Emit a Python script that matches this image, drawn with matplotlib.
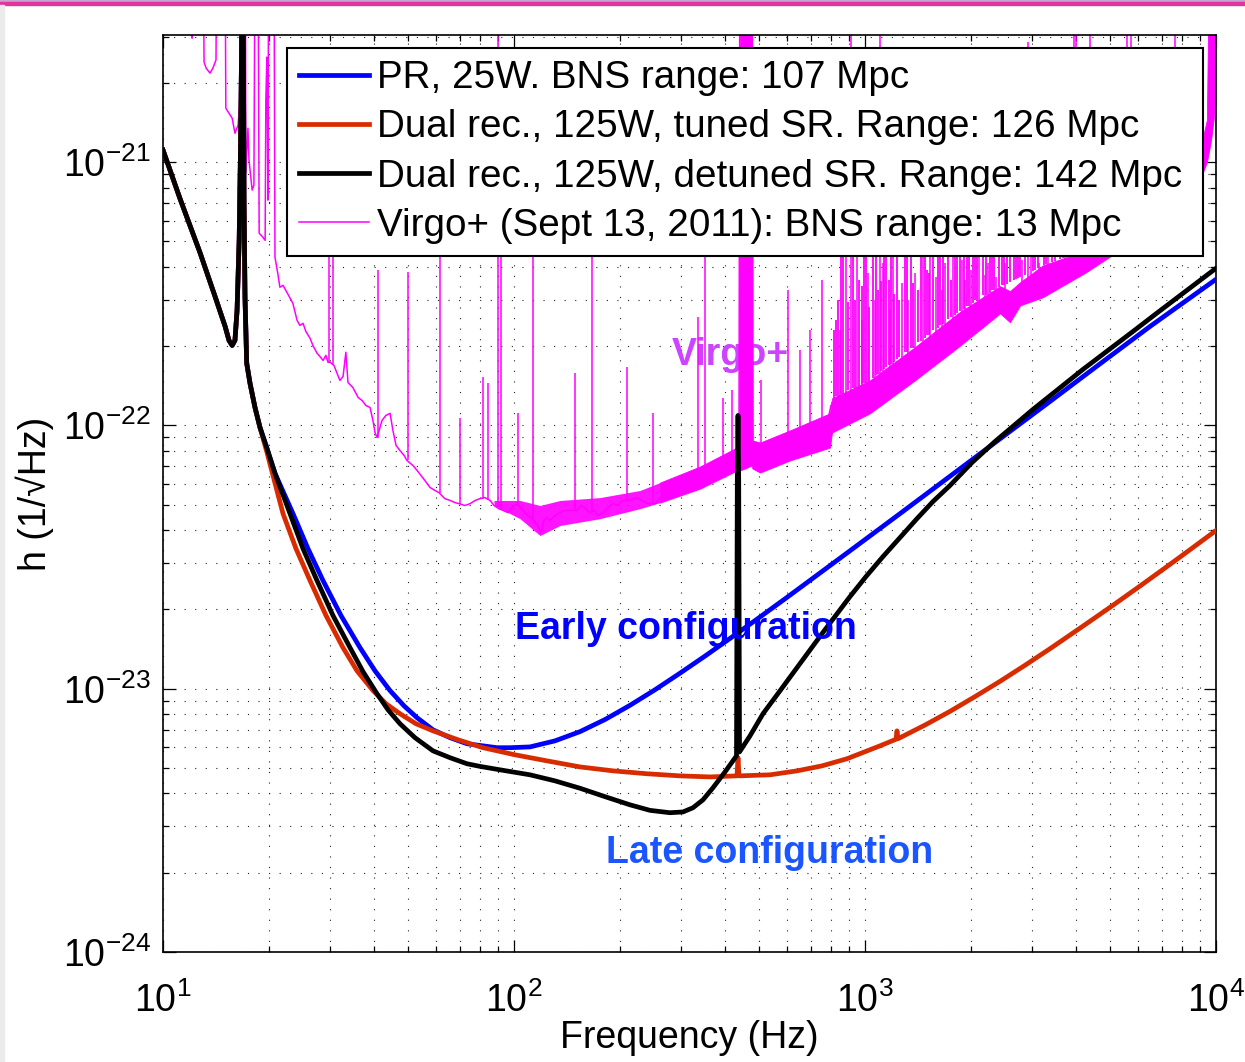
import numpy as np
import matplotlib
matplotlib.use("Agg")
import matplotlib.pyplot as plt
from matplotlib.patches import Rectangle
from matplotlib.ticker import FixedLocator, NullFormatter

plt.rcParams['font.family'] = ['Liberation Sans', 'DejaVu Sans']
plt.rcParams['mathtext.fontset'] = 'custom'
plt.rcParams['mathtext.rm'] = 'Liberation Sans'

# ---------------- data (log10 frequency [Hz], log10 strain [1/sqrt(Hz)]) ----------------
# common low-frequency part of the three AdV curves
low_logf = [1.000, 1.048, 1.105, 1.148, 1.177, 1.188, 1.197, 1.205, 1.211, 1.217, 1.2208,
            1.2236, 1.2265, 1.2293, 1.2308, 1.2336, 1.2385, 1.2479, 1.2621, 1.2764]
low_logh = [-20.954, -21.137, -21.342, -21.509, -21.624, -21.677, -21.696, -21.677, -21.563,
            -21.297, -20.954, -20.612, -19.8, -20.612, -21.133, -21.513, -21.764, -21.840,
            -21.932, -22.008]

pr_logf = [1.2954, 1.3191, 1.3704, 1.4131, 1.4558, 1.5071, 1.5613, 1.6040, 1.6467, 1.6866,
           1.7236, 1.7692, 1.8177, 1.8661, 1.9117, 1.9516, 1.9886, 2.0456, 2.1168, 2.1880,
           2.2593, 2.3305, 2.4017, 2.4729, 2.5442, 2.6154, 2.6952, 2.7778, 2.8661, 2.9573,
           3.0997, 3.2422, 3.3846, 3.5271, 3.6695, 3.8120, 4.0]
pr_logh = [-22.084, -22.182, -22.335, -22.468, -22.589, -22.722, -22.844, -22.932, -23.007,
           -23.065, -23.110, -23.156, -23.186, -23.209, -23.217, -23.224, -23.224, -23.221,
           -23.198, -23.163, -23.117, -23.063, -23.004, -22.941, -22.876, -22.809, -22.733,
           -22.653, -22.566, -22.476, -22.335, -22.193, -22.051, -21.909, -21.766, -21.624,
           -21.445]

tuned_logf = [1.2963, 1.3419, 1.3789, 1.4188, 1.4644, 1.5128, 1.5527, 1.5983, 1.6353, 1.6752,
              1.7208, 1.7692, 1.8405, 1.9117, 2.0028, 2.0940, 2.1880, 2.2821, 2.3789, 2.4729,
              2.5584, 2.6353, 2.6382, 2.6410, 2.7293, 2.8063, 2.8775, 2.9487, 3.0427, 3.0883,
              3.0912, 3.0940, 3.1709, 3.2422, 3.3134, 3.3846, 3.4558, 3.5271, 3.6125, 3.6980,
              3.7835, 3.8604, 3.9259, 4.0]
tuned_logh = [-22.103, -22.335, -22.468, -22.589, -22.722, -22.844, -22.932, -23.007, -23.057,
              -23.095, -23.133, -23.160, -23.194, -23.224, -23.251, -23.274, -23.297, -23.312,
              -23.323, -23.331, -23.335, -23.331, -23.262, -23.331, -23.327, -23.312, -23.293,
              -23.266, -23.217, -23.192, -23.160, -23.190, -23.138, -23.086, -23.030, -22.972,
              -22.911, -22.848, -22.770, -22.691, -22.610, -22.536, -22.472, -22.399]

detuned_logf = [1.2954, 1.3191, 1.3618, 1.3989, 1.4387, 1.4843, 1.5328, 1.5698, 1.6097, 1.6410,
                1.6752, 1.7179, 1.7692, 1.8177, 1.8661, 1.9031, 1.9601, 2.0456, 2.1168, 2.1880,
                2.2593, 2.3305, 2.3875, 2.4444, 2.4815, 2.5100, 2.5385, 2.5670, 2.6012, 2.6339,
                2.6362, 2.6382, 2.6402, 2.6425, 2.6724, 2.7094, 2.7578, 2.8063, 2.8775, 2.9573,
                3.0028, 3.0513, 3.0997, 3.1481, 3.1937, 3.2422, 3.3048, 3.3704, 3.4786, 3.5499,
                3.6211, 3.6923, 3.7635, 3.8348, 3.9060, 4.0]
detuned_logh = [-22.084, -22.182, -22.335, -22.468, -22.589, -22.722, -22.844, -22.935, -23.019,
                -23.080, -23.133, -23.186, -23.236, -23.262, -23.285, -23.295, -23.308, -23.327,
                -23.350, -23.378, -23.410, -23.441, -23.462, -23.471, -23.468, -23.452, -23.422,
                -23.376, -23.316, -23.255, -22.209, -21.962, -22.209, -23.240, -23.179, -23.095,
                -23.008, -22.920, -22.791, -22.650, -22.574, -22.498, -22.426, -22.354, -22.289,
                -22.228, -22.141, -22.061, -21.939, -21.863, -21.787, -21.715, -21.643, -21.570,
                -21.498, -21.403]

# Virgo+ measured sensitivity (baseline trace)
virgo_logf = [1.000, 1.078, 1.083, 1.087, 1.111, 1.117, 1.123, 1.134, 1.142, 1.151, 1.155, 1.175,
              1.179, 1.188, 1.197, 1.205, 1.214, 1.219, 1.222, 1.234, 1.236, 1.239, 1.242, 1.245,
              1.254, 1.259, 1.264, 1.269, 1.274, 1.282, 1.291, 1.293, 1.296, 1.299, 1.302, 1.315,
              1.319, 1.328, 1.333, 1.342, 1.350, 1.359, 1.370, 1.382, 1.390, 1.399, 1.407, 1.419,
              1.427, 1.439, 1.447, 1.456, 1.464, 1.470, 1.476, 1.487, 1.496, 1.504, 1.513, 1.521,
              1.527, 1.541, 1.556, 1.567, 1.578, 1.590, 1.598, 1.604, 1.610, 1.624, 1.635, 1.647,
              1.655, 1.664, 1.675, 1.687, 1.695, 1.712, 1.724, 1.735, 1.746, 1.761, 1.775, 1.786,
              1.803, 1.818, 1.832, 1.843, 1.860, 1.875, 1.889, 1.903, 1.917, 1.932, 1.943, 1.957,
              1.969, 1.983, 1.994, 2.009, 2.026, 2.040, 2.057, 2.068, 2.077, 2.085, 2.094, 2.103,
              2.117, 2.131, 2.145, 2.160, 2.179, 2.191, 2.202, 2.214, 2.228, 2.239, 2.254, 2.268,
              2.282, 2.296, 2.308, 2.328, 2.339, 2.350, 2.365, 2.379, 2.402, 2.416, 2.430, 2.444,
              2.459, 2.473, 2.487, 2.501, 2.516, 2.530, 2.553, 2.564, 2.578, 2.590, 2.601, 2.613,
              2.627, 2.635, 2.641, 2.644, 2.678, 2.681, 2.689, 2.701, 2.709, 2.721, 2.732, 2.744,
              2.755, 2.766, 2.778, 2.786, 2.801, 2.815, 2.829, 2.843, 2.858, 2.872, 2.883, 2.894,
              2.903, 2.914, 2.929, 2.952, 2.966, 2.986, 3.000, 3.017, 3.031, 3.057, 3.085, 3.114,
              3.142, 3.171, 3.199, 3.228, 3.265, 3.299, 3.328, 3.356, 3.385, 3.405, 3.419, 3.433,
              3.456, 3.484, 3.507, 3.541, 3.570, 3.598, 3.630, 3.670, 3.726, 3.783, 3.840, 3.897,
              3.954, 3.972, 3.980, 3.989, 3.994, 4.000]
virgo_logh = [-19.6, -19.6, -20.529, -19.6, -19.6, -20.620, -20.643, -20.662, -20.643, -20.612,
              -19.6, -19.6, -20.795, -20.814, -20.833, -20.890, -20.859, -20.764, -19.6, -19.6,
              -21.042, -20.954, -20.871, -20.992, -21.106, -21.087, -19.6, -19.6, -21.270,
              -21.281, -21.297, -20.764, -20.601, -21.144, -19.6, -19.6, -21.361, -21.430,
              -21.475, -21.468, -21.487, -21.509, -21.536, -21.601, -21.620, -21.612, -21.643,
              -21.669, -21.696, -21.726, -21.738, -21.753, -21.734, -21.760, -21.760, -21.772,
              -21.802, -21.829, -21.814, -21.722, -21.837, -21.856, -21.894, -21.905, -21.924,
              -21.932, -21.981, -22.027, -22.046, -21.981, -21.962, -21.954, -22.019, -22.076,
              -22.095, -22.114, -22.133, -22.152, -22.171, -22.190, -22.209, -22.236, -22.247,
              -22.255, -22.278, -22.285, -22.293, -22.297, -22.304, -22.297, -22.285, -22.278,
              -22.274, -22.285, -22.304, -22.316, -22.323, -22.331, -22.312, -22.297, -22.323,
              -22.342, -22.361, -22.380, -22.407, -22.361, -22.350, -22.361, -22.342, -22.331,
              -22.323, -22.323, -22.323, -22.304, -22.312, -22.331, -22.323, -22.342, -22.331,
              -22.312, -22.297, -22.304, -22.285, -22.285, -22.278, -22.274, -22.285, -22.297,
              -22.297, -22.274, -22.266, -22.258, -22.247, -22.240, -22.236, -22.224, -22.213,
              -22.209, -22.201, -22.194, -22.182, -22.171, -22.163, -22.152, -22.144, -22.122,
              -22.114, -19.6, -19.6, -22.076, -22.095, -22.141, -22.152, -22.133, -22.114,
              -22.103, -22.095, -22.084, -22.076, -22.076, -22.057, -22.046, -22.034, -22.019,
              -22.008, -21.996, -21.989, -21.981, -21.924, -21.913, -21.905, -21.897, -21.890,
              -21.878, -21.867, -21.859, -21.848, -21.829, -21.802, -21.772, -21.753, -21.715,
              -21.696, -21.669, -21.639, -21.608, -21.582, -21.555, -21.525, -21.544, -21.582,
              -21.525, -21.487, -21.460, -21.449, -21.418, -21.395, -21.380, -21.365, -21.327,
              -21.278, -21.228, -21.175, -21.114, -21.038, -20.992, -20.954, -20.726, -19.6,
              -19.6]

# Virgo+ noise envelope, sparse part (lower / upper)
sparse_logf = [1.943, 2.017, 2.074, 2.131, 2.245, 2.359, 2.416]
sparse_lo = [-22.304, -22.354, -22.418, -22.380, -22.354, -22.316, -22.293]
sparse_hi = [-22.285, -22.285, -22.304, -22.285, -22.274, -22.247, -22.217]

# Virgo+ noise envelope, dense part (lower / upper)
dense_logf = [2.416, 2.530, 2.635, 2.642, 2.644, 2.678, 2.679, 2.701, 2.786, 2.900, 2.906,
              3.014, 3.142, 3.265, 3.385, 3.413, 3.442, 3.507, 3.630, 3.812, 3.954, 3.974,
              3.986, 4.000]
dense_lo = [-22.293, -22.240, -22.171, -22.171, -22.171, -22.152, -22.163, -22.179, -22.133,
            -22.084, -22.027, -21.954, -21.829, -21.703, -21.574, -21.608, -21.544, -21.513,
            -21.418, -21.259, -21.068, -21.000, -20.916, -20.764]
dense_hi = [-22.217, -22.156, -22.084, -22.076, -19.6, -19.6, -22.057, -22.065, -22.019,
            -21.954, -21.897, -21.829, -21.703, -21.574, -21.471, -21.490, -21.456, -21.392,
            -21.335, -21.163, -20.954, -20.840, -19.6, -19.6]

# Virgo+ narrow lines (frequency, foot, top)
spike_logf = [1.473, 1.483, 1.612, 1.698, 1.789, 1.846, 1.912, 1.926, 1.953, 1.964, 2.011,
              2.053, 2.174, 2.222, 2.322, 2.396, 2.525, 2.544, 2.595, 2.621, 2.704, 2.781,
              2.815, 2.843, 2.878, 2.929, 2.946, 2.960, 2.977, 2.991, 3.009, 3.028, 3.043,
              3.051, 3.071, 3.080, 3.105, 3.122, 3.142, 3.165, 3.185, 3.202, 3.219, 3.228,
              3.251, 3.276, 3.285, 3.302, 3.325, 3.342, 3.350, 3.373, 3.399, 3.447, 3.464,
              3.473, 3.496, 3.521, 3.570, 3.595, 3.601, 3.618, 3.641, 3.670, 3.698, 3.746,
              3.758, 3.798, 3.840, 3.883, 3.926]
spike_foot = [-21.760, -21.772, -22.046, -22.133, -22.255, -22.297, -22.278, -22.285, -22.308,
              -22.319, -22.300, -22.354, -22.323, -22.327, -22.285, -22.297, -22.213, -22.205,
              -22.167, -22.148, -22.144, -22.076, -22.046, -22.019, -21.992, -21.905, -21.901,
              -21.897, -21.894, -21.878, -21.871, -21.848, -21.848, -21.840, -21.817, -21.814,
              -21.787, -21.768, -21.753, -21.722, -21.703, -21.692, -21.681, -21.669, -21.650,
              -21.631, -21.624, -21.605, -21.586, -21.570, -21.563, -21.536, -21.532, -21.498,
              -21.479, -21.471, -21.456, -21.437, -21.395, -21.380, -21.380, -21.369, -21.361,
              -21.327, -21.304, -21.259, -21.251, -21.217, -21.175, -21.129, -21.076]
spike_top = [-20.76, -20.76, -21.411, -21.418, -20.76, -21.970, -21.817, -21.840, -19.6,
             -20.76, -21.954, -20.76, -21.802, -20.76, -21.779, -21.954, -21.589, -20.76,
             -21.894, -21.867, -21.829, -21.487, -21.715, -21.639, -21.449, -21.639, -20.76,
             -19.6, -20.76, -21.601, -21.422, -21.525, -19.6, -21.384, -21.563, -20.76,
             -21.460, -21.525, -21.422, -20.76, -20.76, -21.437, -21.487, -21.384, -20.76,
             -21.373, -21.449, -21.411, -20.76, -21.430, -21.384, -21.437, -21.384, -21.373,
             -20.544, -20.76, -21.384, -20.76, -20.76, -19.6, -19.6, -20.76, -19.6, -20.76,
             -20.76, -19.6, -19.6, -20.76, -20.76, -19.6, -20.76]

# dense forest of lines above 700 Hz (frequency, foot, top)
forest_logf = [2.9117, 2.9231, 2.9373, 2.9715, 2.9829, 2.9971, 3.0228, 3.0370, 3.0598, 3.0684,
               3.0912, 3.0969, 3.1140, 3.1311, 3.1510, 3.1766, 3.1937, 3.2137, 3.2365, 3.2450,
               3.2621, 3.2707, 3.2906, 3.3134, 3.3362, 3.3618, 3.3818, 3.3903, 3.4131, 3.4245,
               3.4359, 3.4558, 3.4843, 3.5100, 3.5328, 3.5556, 3.5812, 3.6068,
               2.9174, 2.9316, 2.9516, 2.9658, 2.9915, 3.0028, 3.0114, 3.0313, 3.0456, 3.0541,
               3.0741, 3.0826, 3.1197, 3.1368, 3.1595, 3.1709, 3.1823, 3.2080, 3.2222, 3.2564,
               3.2820, 3.2963, 3.3077, 3.3191, 3.3447, 3.3561, 3.3675, 3.3960, 3.4046, 3.4302,
               3.4416, 3.4786, 3.4929, 3.5157, 3.5413, 3.5641, 3.5897]
forest_foot = [-21.935, -21.920, -21.905, -21.867, -21.856, -21.840, -21.821, -21.806, -21.779,
               -21.772, -21.749, -21.741, -21.722, -21.707, -21.684, -21.658, -21.639, -21.620,
               -21.597, -21.589, -21.574, -21.567, -21.548, -21.525, -21.506, -21.487, -21.475,
               -21.468, -21.456, -21.449, -21.441, -21.430, -21.411, -21.392, -21.380, -21.369,
               -21.361, -21.354,
               -21.890, -21.882, -21.867, -21.859, -21.844, -21.837, -21.833, -21.810, -21.795,
               -21.787, -21.768, -21.760, -21.722, -21.707, -21.681, -21.669, -21.658, -21.631,
               -21.616, -21.582, -21.559, -21.548, -21.536, -21.529, -21.506, -21.498, -21.487,
               -21.468, -21.464, -21.445, -21.437, -21.414, -21.403, -21.388, -21.376, -21.365,
               -21.357]
forest_top = [-21.639, -21.525, -20.76, -21.525, -21.449, -20.76, -20.76, -21.487, -20.76,
              -21.449, -20.76, -21.525, -20.76, -20.76, -21.487, -21.411, -20.76, -20.76,
              -20.76, -21.449, -20.76, -20.76, -20.76, -20.76, -20.76, -20.76, -20.76, -20.76,
              -20.76, -20.76, -20.76, -20.76, -20.76, -20.76, -20.76, -20.76, -20.76, -20.76,
              -21.60, -20.76, -21.53, -20.76, -21.47, -20.76, -21.55, -20.76, -21.45, -20.76,
              -20.76, -21.50, -20.76, -21.46, -20.76, -20.76, -21.42, -20.76, -20.76, -20.76,
              -20.76, -20.76, -20.76, -20.76, -20.76, -20.76, -20.76, -20.76, -20.76, -20.76,
              -20.76, -20.76, -20.76, -20.76, -20.76, -20.76, -20.76]

x_major = [1e1, 1e2, 1e3, 1e4]
y_major = [1e-24, 1e-23, 1e-22, 1e-21]

labels = ["PR, 25W. BNS range: 107 Mpc",
          "Dual rec., 125W, tuned SR. Range: 126 Mpc",
          "Dual rec., 125W, detuned SR. Range: 142 Mpc",
          "Virgo+ (Sept 13, 2011): BNS range: 13 Mpc"]

# ---------------- figure ----------------
W, H = 1245, 1062
fig = plt.figure(figsize=(W / 100, H / 100), dpi=100)
fig.patches.append(Rectangle((0, 1 - 2 / H), 1, 2 / H, transform=fig.transFigure,
                             color='#C9A3CF', zorder=0))
fig.patches.append(Rectangle((0, 1 - 5 / H), 1, 3 / H, transform=fig.transFigure,
                             color='#E2359B', zorder=0))
fig.patches.append(Rectangle((0, 0), 3.5 / W, 1 - 5 / H, transform=fig.transFigure,
                             color='#EBEBEB', zorder=0))

ax = fig.add_axes([163 / W, 1 - 952 / H, (1216 - 163) / W, (952 - 35) / H])

def p(a):
    return 10 ** np.asarray(a, dtype=float)

MAG = '#FF00FF'
ax.fill_between(p(sparse_logf), p(sparse_lo), p(sparse_hi), color=MAG, alpha=0.92, lw=0,
                zorder=1.9)
ax.fill_between(p(dense_logf), p(dense_lo), p(dense_hi), color=MAG, lw=0.6, zorder=1.9)
ax.vlines(p(spike_logf), p(spike_foot), p(spike_top), color=MAG, lw=1.1, zorder=1.9)
ax.vlines(p(forest_logf), p(forest_foot), p(forest_top), color=MAG, lw=1.3, zorder=1.9)
l_virgo, = ax.plot(p(virgo_logf), p(virgo_logh), color=MAG, lw=1.1, zorder=2)

LW = 3.4
l_pr, = ax.plot(p(low_logf + pr_logf), p(low_logh + pr_logh), color='#0000FF', lw=LW,
                zorder=3, solid_joinstyle='round')
l_tu, = ax.plot(p(low_logf + tuned_logf), p(low_logh + tuned_logh), color='#D92B00', lw=LW,
                zorder=3.1, solid_joinstyle='round')
l_de, = ax.plot(p(low_logf + detuned_logf), p(low_logh + detuned_logh), color='black', lw=LW,
                zorder=3.2, solid_joinstyle='round')

ax.set_xscale('log')
ax.set_yscale('log')
ax.set_xlim(10, 1e4)
ax.set_ylim(1e-24, 10 ** -20.517)

x_minor = [m * d for d in (1e1, 1e2, 1e3) for m in range(2, 10)]
y_minor = [m * d for d in (1e-24, 1e-23, 1e-22) for m in range(2, 10)] + [2e-21, 3e-21]
ax.xaxis.set_major_locator(FixedLocator(x_major))
ax.yaxis.set_major_locator(FixedLocator(y_major))
ax.xaxis.set_minor_locator(FixedLocator(x_minor))
ax.yaxis.set_minor_locator(FixedLocator([v for v in y_minor if v < 10 ** -20.517]))
ax.xaxis.set_minor_formatter(NullFormatter())
ax.yaxis.set_minor_formatter(NullFormatter())

ax.grid(True, which='both', color='#222222', linestyle=(0, (1, 8.5)), linewidth=0.8)
ax.set_axisbelow(True)
ax.tick_params(which='both', direction='in', top=True, right=True, width=0.9,
               labelsize=27, colors='black')
ax.tick_params(which='major', length=9)
ax.tick_params(which='minor', length=4.5)
ax.tick_params(axis='x', which='major', pad=22)
ax.tick_params(axis='y', which='major', pad=9)
for s in ax.spines.values():
    s.set_linewidth(1.2)

ax.set_xlabel('Frequency (Hz)', fontsize=27, labelpad=0)
ax.set_ylabel('h (1/\u221aHz)', fontsize=27, labelpad=6)

ax.text(412, 1.85e-22, 'Virgo+', color='#CC44FF', fontsize=27, fontweight='bold',
        ha='center', va='center', zorder=1.5)
ax.text(309, 1.69e-23, 'Early configuration', color='#0000FF', fontsize=27,
        fontweight='bold', ha='center', va='center', zorder=4)
ax.text(536, 2.38e-24, 'Late configuration', color='#1A55FF', fontsize=27,
        fontweight='bold', ha='center', va='center', zorder=4)

x0 = (287 - 163) / 1053
x1 = (1203 - 163) / 1053
y1 = (952 - 48) / 917
y0 = (952 - 255) / 917
leg = ax.legend([l_pr, l_tu, l_de, l_virgo], labels, loc='upper left', mode='expand',
                bbox_to_anchor=(x0, y0, x1 - x0, y1 - y0), borderaxespad=0, fontsize=27.8,
                labelspacing=0.34, handlelength=1.8, handletextpad=0.2, borderpad=0.32,
                fancybox=False, edgecolor='black', framealpha=1)
leg.get_frame().set_linewidth(1.5)
leg.set_zorder(10)

fig.savefig('out.png', dpi=100)
